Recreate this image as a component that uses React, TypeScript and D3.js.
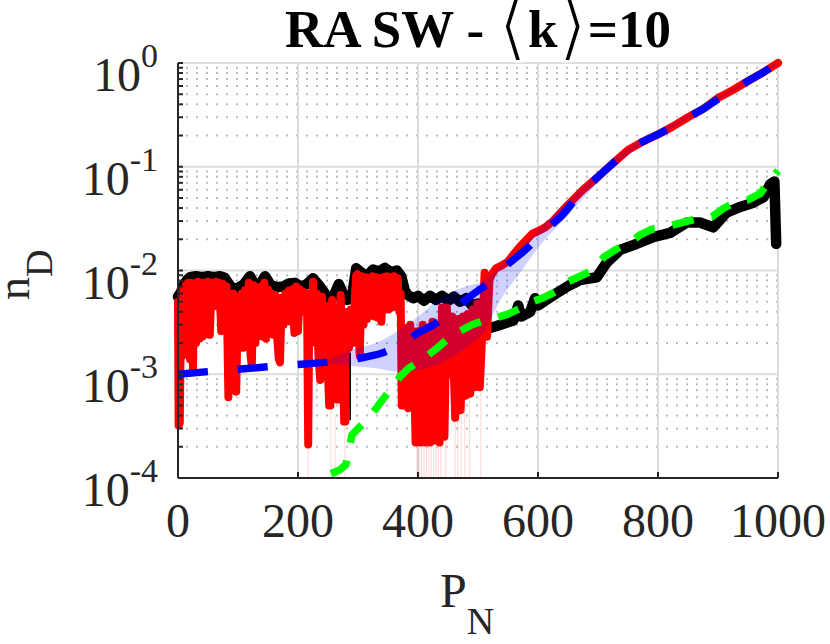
import React from 'react';
import * as d3 from 'd3';

const W = 830;
const H = 644;
const M = { left: 178, right: 778, top: 63, bottom: 478 };

const xTicks = [0, 200, 400, 600, 800, 1000];
const yExponents = [-4, -3, -2, -1, 0];

// [P_N, n_D]
const blackSeries: [number, number][] = [
  [0, 5.6e-3], [5, 6.2e-3], [10, 7.3e-3], [15, 8.1e-3], [20, 8.6e-3], [30, 8.8e-3], [40, 8.6e-3],
  [50, 8.8e-3], [60, 8.6e-3], [70, 8.8e-3], [78, 8.5e-3], [85, 7.4e-3], [92, 6.6e-3], [100, 6.8e-3],
  [110, 7.4e-3], [120, 8.8e-3], [128, 7.3e-3], [135, 7.1e-3], [145, 8.8e-3], [155, 7.2e-3],
  [165, 6.9e-3], [175, 7.0e-3], [185, 7.5e-3], [195, 7.6e-3], [205, 7.0e-3], [215, 7.4e-3],
  [225, 8.4e-3], [235, 7.2e-3], [245, 6.0e-3], [252, 4.9e-3], [260, 5.8e-3], [268, 7.4e-3],
  [275, 6.0e-3], [282, 5.2e-3], [290, 5.6e-3], [297, 1.05e-2], [305, 9.6e-3], [315, 8.8e-3],
  [325, 1.02e-2], [335, 9.8e-3], [345, 1.06e-2], [355, 9.6e-3], [365, 1.0e-2], [372, 8.8e-3],
  [378, 6.4e-3], [383, 5.8e-3], [392, 5.4e-3], [400, 5.7e-3], [410, 5.1e-3], [420, 5.7e-3],
  [430, 5.2e-3], [440, 5.7e-3], [450, 5.1e-3], [460, 5.6e-3], [470, 5.0e-3], [480, 5.4e-3],
  [490, 4.6e-3], [500, 4.8e-3], [506, 3.6e-3], [512, 3.0e-3], [520, 2.8e-3], [530, 2.9e-3],
  [545, 3.1e-3], [559, 3.3e-3], [567, 4.6e-3], [572, 3.6e-3], [587, 4.0e-3], [595, 5.4e-3],
  [600, 4.6e-3], [614, 5.2e-3], [630, 6.0e-3], [647, 6.9e-3], [670, 8.1e-3], [698, 8.6e-3],
  [714, 1.18e-2], [737, 1.58e-2], [764, 1.8e-2], [792, 2.1e-2], [820, 2.3e-2], [848, 2.9e-2],
  [870, 2.9e-2], [892, 2.6e-2], [914, 3.6e-2], [937, 4.1e-2], [959, 4.5e-2], [976, 5.1e-2],
  [987, 6.8e-2], [994, 7.2e-2], [997, 1.8e-2],
];

const redSeries: [number, number][] = [
  [0, 5.0e-3], [1, 3.2e-4], [3, 3.4e-4], [5, 4.5e-3], [7, 1.5e-3], [9, 6.5e-3], [11, 1.8e-3],
  [13, 7.2e-3], [15, 1.6e-3], [17, 7.6e-3], [20, 1.4e-3], [22, 7.6e-3], [25, 1.1e-3], [27, 7.4e-3],
  [30, 2.0e-3], [33, 7.8e-3], [36, 2.2e-3], [39, 7.6e-3], [41, 2.3e-3], [44, 7.6e-3], [47, 3.0e-3],
  [50, 7.8e-3], [53, 2.4e-3], [56, 7.6e-3], [60, 5.0e-3], [63, 7.8e-3], [66, 4.5e-3], [69, 7.6e-3],
  [72, 2.6e-3], [75, 7.4e-3], [78, 4.0e-3], [81, 7.0e-3], [84, 6.0e-4], [86, 5.0e-3], [89, 1.5e-3],
  [92, 6.0e-3], [95, 1.0e-3], [97, 6.8e-4], [100, 5.5e-3], [103, 3.0e-3], [106, 6.0e-3],
  [109, 1.8e-3], [112, 6.5e-3], [115, 2.0e-3], [118, 7.6e-3], [121, 1.5e-3], [123, 1.2e-3],
  [126, 7.2e-3], [129, 2.0e-3], [132, 6.8e-3], [135, 4.0e-3], [138, 7.0e-3], [141, 2.3e-3],
  [144, 7.6e-3], [147, 2.2e-3], [150, 6.6e-3], [153, 4.5e-3], [156, 6.0e-3], [159, 2.4e-3],
  [162, 5.8e-3], [166, 2.0e-3], [168, 1.4e-3], [170, 1.3e-3], [173, 5.5e-3], [176, 3.0e-3],
  [179, 6.0e-3], [182, 4.0e-3], [185, 6.4e-3], [188, 3.2e-3], [191, 6.6e-3], [194, 2.5e-3],
  [197, 7.0e-3], [200, 2.6e-3], [203, 6.6e-3], [206, 4.0e-3], [209, 6.2e-3], [212, 4.2e-3],
  [215, 6.0e-3], [217, 2.1e-4], [219, 6.0e-3], [222, 2.0e-3], [225, 7.8e-3], [228, 2.2e-3],
  [231, 6.0e-3], [234, 1.5e-3], [237, 8.8e-4], [240, 5.6e-3], [243, 2.0e-3], [246, 4.6e-3],
  [249, 1.4e-3], [252, 5.0e-4], [254, 5.0e-4], [257, 5.2e-3], [260, 1.5e-3], [263, 4.4e-3],
  [266, 5.7e-4], [268, 5.7e-4], [271, 5.8e-3], [274, 2.0e-3], [277, 3.5e-4], [279, 3.5e-4],
  [282, 4.0e-3], [285, 1.8e-3], [288, 4.2e-3], [291, 2.0e-3], [294, 4.6e-3], [297, 9.0e-3],
  [299, 9.2e-3], [301, 2.5e-3], [303, 1.5e-3], [306, 8.8e-3], [309, 3.0e-3], [312, 8.6e-3],
  [315, 3.4e-3], [318, 8.4e-3], [321, 4.0e-3], [324, 8.8e-3], [327, 3.6e-3], [330, 8.6e-3],
  [333, 3.5e-3], [336, 8.4e-3], [339, 3.2e-3], [342, 8.6e-3], [345, 4.2e-3], [348, 8.8e-3],
  [351, 4.2e-3], [354, 8.6e-3], [357, 4.4e-3], [360, 8.8e-3], [363, 4.5e-3], [366, 8.4e-3],
  [369, 4.0e-3], [371, 6.0e-3], [373, 5.0e-4], [375, 5.0e-4], [378, 2.8e-3], [381, 6.0e-4],
  [384, 4.7e-4], [387, 3.0e-3], [390, 8.0e-4], [392, 2.6e-3], [396, 2.2e-4],
  [400, 2.6e-3], [404, 2.2e-4], [408, 3.0e-3], [412, 2.2e-4], [416, 2.8e-3], [420, 2.2e-4],
  [424, 3.2e-3], [428, 2.3e-4], [432, 2.6e-3], [436, 2.2e-4], [440, 4.4e-3], [444, 2.5e-4],
  [448, 4.4e-3], [453, 1.0e-3], [457, 3.6e-3], [462, 3.8e-4], [467, 3.4e-3], [471, 4.5e-4],
  [475, 3.6e-3], [479, 6.2e-4], [483, 3.8e-3], [487, 6.5e-4], [491, 4.2e-3], [495, 7.5e-4],
  [499, 4.8e-3], [503, 7.5e-4], [507, 2.4e-3], [511, 9.5e-3], [515, 2.3e-3], [519, 8.0e-3],
  [523, 9.2e-3], [530, 1.05e-2], [540, 1.12e-2], [550, 1.22e-2], [560, 1.45e-2], [570, 1.7e-2],
  [580, 1.95e-2], [590, 2.25e-2], [600, 2.4e-2], [612, 2.6e-2], [625, 3.0e-2], [650, 4.3e-2],
  [675, 6.0e-2], [700, 8.0e-2], [725, 1.08e-1], [750, 1.45e-1], [775, 1.75e-1], [800, 2.05e-1],
  [825, 2.45e-1], [850, 3.0e-1], [875, 3.6e-1], [900, 4.6e-1], [925, 5.5e-1], [950, 6.7e-1],
  [975, 8.1e-1], [1000, 1.0],
];

const blueSeries: [number, number][] = [
  [0, 1.0e-3], [50, 1.06e-3], [100, 1.12e-3], [150, 1.18e-3], [200, 1.24e-3], [250, 1.31e-3],
  [300, 1.42e-3], [340, 1.6e-3], [370, 1.9e-3], [400, 2.5e-3], [430, 3.1e-3], [460, 4.2e-3],
  [490, 5.8e-3], [520, 7.8e-3], [550, 1.15e-2], [580, 1.6e-2], [610, 2.4e-2], [640, 3.4e-2],
  [670, 5.5e-2], [700, 8.0e-2], [725, 1.08e-1], [750, 1.42e-1], [775, 1.75e-1], [800, 2.05e-1],
  [825, 2.45e-1], [850, 3.0e-1], [875, 3.6e-1], [900, 4.5e-1], [925, 5.5e-1], [950, 6.7e-1],
  [975, 8.1e-1], [1000, 1.0],
];

const greenSeries: [number, number][] = [
  [255, 1.1e-4], [270, 1.2e-4], [280, 1.35e-4], [290, 2.6e-4], [305, 3.2e-4], [320, 3.9e-4],
  [340, 5.6e-4], [355, 7.2e-4], [370, 9.5e-4], [385, 1.15e-3], [400, 1.3e-3], [415, 1.5e-3],
  [430, 1.75e-3], [450, 2.2e-3], [470, 2.6e-3], [490, 3.0e-3], [510, 3.3e-3], [530, 3.5e-3],
  [550, 3.8e-3], [570, 4.3e-3], [590, 5.0e-3], [610, 5.5e-3], [630, 6.3e-3], [650, 7.8e-3],
  [670, 8.8e-3], [690, 1.0e-2], [710, 1.35e-2], [730, 1.6e-2], [750, 1.8e-2], [770, 2.2e-2],
  [790, 2.5e-2], [810, 2.6e-2], [830, 2.8e-2], [850, 3.0e-2], [870, 3.2e-2], [890, 3.3e-2],
  [910, 4.0e-2], [930, 4.6e-2], [950, 4.8e-2], [970, 5.5e-2], [985, 7.2e-2], [1000, 9.2e-2],
];

// [P_N, low, high]
const bandSeries: [number, number, number][] = [
  [245, 1.3e-3, 1.32e-3], [290, 1.2e-3, 1.72e-3], [330, 1.14e-3, 2.0e-3], [370, 1.05e-3, 2.7e-3],
  [400, 1.1e-3, 3.6e-3], [440, 1.3e-3, 5.6e-3], [480, 1.8e-3, 7.0e-3], [510, 2.6e-3, 8.0e-3],
  [540, 5.5e-3, 1.15e-2], [570, 9.5e-3, 1.6e-2], [600, 1.65e-2, 2.45e-2], [650, 3.4e-2, 4.6e-2],
  [700, 7.0e-2, 8.9e-2], [750, 1.3e-1, 1.52e-1], [800, 1.93e-1, 2.15e-1], [900, 4.35e-1, 4.7e-1],
  [1000, 0.97, 1.03],
];

const thinBlack: [number, number, number][] = [[287, 3.6e-4, 1.6e-3]];

// faint red traces that fall below the axis
const faintRed: [number, number][] = [
  [217, 2.1e-4], [255, 5.0e-4], [262, 4.0e-4], [278, 3.5e-4], [398, 2.2e-4], [402, 2.2e-4],
  [406, 2.2e-4], [410, 2.2e-4], [414, 2.2e-4], [418, 2.2e-4], [422, 2.2e-4], [426, 2.3e-4],
  [430, 2.3e-4], [434, 2.2e-4], [438, 2.2e-4], [446, 2.5e-4], [462, 3.8e-4], [466, 3.8e-4],
  [472, 4.5e-4], [478, 6.2e-4], [486, 6.5e-4], [505, 7.5e-4],
];

export default function App() {
  const x = d3.scaleLinear().domain([0, 1000]).range([M.left, M.right]);
  const y = d3.scaleLog().domain([1e-4, 1]).range([M.bottom, M.top]);

  const line = d3.line<[number, number]>().x(d => x(d[0])).y(d => y(d[1]));
  const smooth = d3.line<[number, number]>().x(d => x(d[0])).y(d => y(d[1])).curve(d3.curveMonotoneX);
  const band = d3.area<[number, number, number]>()
    .x(d => x(d[0])).y0(d => y(d[1])).y1(d => y(d[2])).curve(d3.curveMonotoneX);

  const minorY: number[] = [];
  yExponents.slice(0, -1).forEach(e => {
    for (let m = 2; m <= 9; m++) minorY.push(m * Math.pow(10, e));
  });

  const axisColor = '#262626';
  const font = "'Liberation Serif', 'Times New Roman', serif";
  // thin, tall angle brackets like the TeX \langle / \rangle
  const bracketStyle = {
    fontFamily: "'DejaVu Sans'", fontWeight: 'normal' as const, fontSize: 78,
    stroke: '#fff', strokeWidth: 2.6,
  };

  return (
    <svg width={W} height={H} style={{ position: 'absolute', left: 0, top: 0, background: '#fff' }} fontFamily={font}>
      <defs>
        <clipPath id="plotClip">
          <rect x={M.left} y={M.top} width={M.right - M.left} height={M.bottom - M.top} />
        </clipPath>
      </defs>

      {/* minor grid */}
      {minorY.map(v => (
        <line key={'mg' + v} x1={M.left + 8} x2={M.right} y1={y(v)} y2={y(v)}
          stroke="#bcbcbc" strokeWidth={2} strokeDasharray="2 8" />
      ))}
      {/* major grid */}
      {yExponents.map(e => (
        <line key={'gy' + e} x1={M.left} x2={M.right} y1={y(Math.pow(10, e))} y2={y(Math.pow(10, e))}
          stroke="#dcdcdc" strokeWidth={2} />
      ))}
      {xTicks.map(t => (
        <line key={'gx' + t} x1={x(t)} x2={x(t)} y1={M.top} y2={M.bottom} stroke="#dcdcdc" strokeWidth={2} />
      ))}

      {/* series */}
      <path d={line(blackSeries) || ''} fill="none" stroke="#000" strokeWidth={10.5}
        strokeLinejoin="round" strokeLinecap="round" />
      <path d={line(redSeries) || ''} fill="none" stroke="#ff0000" strokeWidth={8}
        strokeLinejoin="round" strokeLinecap="round" />
      {faintRed.map(([p, v]) => (
        <line key={'fr' + p} x1={x(p)} x2={x(p)} y1={y(v)} y2={M.bottom} stroke="rgba(255,0,0,0.14)" strokeWidth={1.2} />
      ))}
      {thinBlack.map(([p, lo, hi]) => (
        <line key={'tb' + p} x1={x(p)} x2={x(p)} y1={y(lo)} y2={y(hi)} stroke="#000" strokeWidth={1.5} />
      ))}
      <path d={band(bandSeries) || ''} fill="rgba(0,0,255,0.18)" stroke="none" clipPath="url(#plotClip)" />
      <path d={smooth(blueSeries) || ''} fill="none" stroke="#0000ff" strokeWidth={7.5} strokeDasharray="30 30" />
      <path d={line(greenSeries) || ''} fill="none" stroke="#00ff00" strokeWidth={7.5} strokeDasharray="22 18"
        strokeLinejoin="round" />

      {/* axes */}
      <line x1={M.left} x2={M.left} y1={M.top} y2={M.bottom} stroke={axisColor} strokeWidth={2} />
      <line x1={M.left} x2={M.right} y1={M.bottom} y2={M.bottom} stroke={axisColor} strokeWidth={2} />
      {yExponents.map(e => (
        <line key={'ty' + e} x1={M.left} x2={M.left + 5} y1={y(Math.pow(10, e))} y2={y(Math.pow(10, e))}
          stroke={axisColor} strokeWidth={2} />
      ))}
      {minorY.map(v => (
        <line key={'tm' + v} x1={M.left} x2={M.left + 5} y1={y(v)} y2={y(v)} stroke={axisColor} strokeWidth={2} />
      ))}
      {xTicks.map(t => (
        <line key={'tx' + t} x1={x(t)} x2={x(t)} y1={M.bottom} y2={M.bottom - 6} stroke={axisColor} strokeWidth={2} />
      ))}

      {/* tick labels */}
      {yExponents.map(e => (
        <text key={'ly' + e} x={158} y={y(Math.pow(10, e)) + 28} textAnchor="end" fontSize={48} fill={axisColor}>
          10<tspan dy={-24} fontSize={34}>{e}</tspan>
        </text>
      ))}
      {xTicks.map(t => (
        <text key={'lx' + t} x={x(t)} y={537} textAnchor="middle" fontSize={48} fill={axisColor}>{t}</text>
      ))}

      {/* axis labels */}
      <text x={440} y={607} fontSize={48} fill={axisColor}>
        P<tspan dy={27} fontSize={38}>N</tspan>
      </text>
      <text transform="translate(29,300) rotate(-90)" fontSize={46} fill={axisColor}>
        n<tspan dy={23} fontSize={38}>D</tspan>
      </text>

      {/* title */}
      <text x={(M.left + M.right) / 2} y={47} textAnchor="middle" fontSize={53} fontWeight="bold" fill="#000">
        RA SW - <tspan {...bracketStyle} dy={4}>⟨</tspan><tspan dy={-4}>k</tspan><tspan {...bracketStyle}
          dy={4}>⟩</tspan><tspan dy={-4}>=10</tspan>
      </text>
    </svg>
  );
}
